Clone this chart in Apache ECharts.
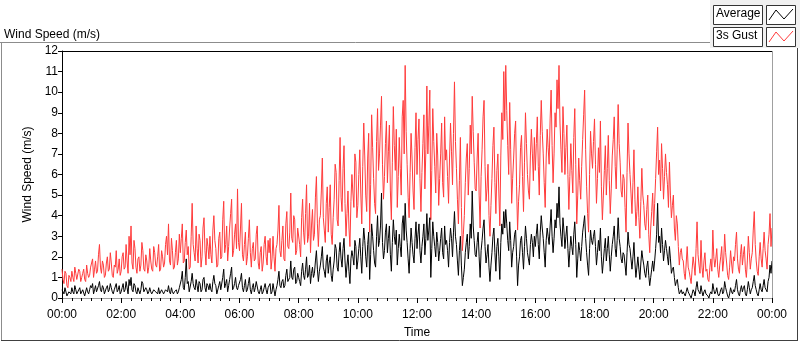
<!DOCTYPE html>
<html><head><meta charset="utf-8">
<script src="https://cdn.jsdelivr.net/npm/echarts@6/dist/echarts.min.js"></script>
<style>html,body{margin:0;padding:0;background:#fff;}#c{width:800px;height:342px;}</style>
</head><body><div id="c"></div>
<script>
// Sample interval in minutes (samples start at 00:00), 30 samples per hour
const STEP_MIN = 2;
// 3s Gust (m/s)
const gust = [
 1.4,0.9,0.7,1.3,1.2,0.6,0.5,1.1,1.0,0.8,1.3,1.0,0.8,1.5,1.2,0.9,0.9,1.4,1.3,0.8,1.0,1.2,1.4,0.9,0.8,1.6,1.2,1.0,1.1,1.5,
 1.5,1.9,1.0,1.4,1.8,1.2,1.3,2.1,2.6,1.5,1.2,1.8,1.6,1.0,1.1,1.7,2.0,1.3,1.4,2.2,1.7,1.1,1.0,1.6,1.5,2.3,1.2,1.4,1.9,1.1,
 1.3,2.0,2.2,1.4,1.5,2.6,1.8,1.2,3.0,2.1,3.5,1.7,1.4,2.8,2.4,1.5,1.2,1.9,2.0,1.3,1.6,2.7,2.3,1.4,1.3,2.1,1.8,1.2,1.5,2.4,
 1.8,1.4,1.3,2.5,2.2,1.6,1.5,2.0,2.6,1.3,1.4,2.3,2.0,1.5,1.7,2.6,3.0,2.1,3.6,1.8,1.6,2.9,2.3,1.4,1.5,2.2,2.8,1.6,1.9,3.1,
 2.2,2.9,3.6,1.7,1.8,2.7,3.3,2.1,2.5,1.4,1.5,3.0,4.6,2.6,2.2,1.8,3.5,2.4,1.7,3.1,2.8,1.5,2.0,3.4,3.9,2.3,1.6,2.9,2.5,1.9,
 3.0,2.1,1.7,3.3,4.0,2.8,2.4,1.5,1.6,2.9,3.2,1.9,2.0,3.8,4.7,2.2,2.6,3.5,1.8,2.5,3.4,4.1,4.8,2.0,2.3,3.1,3.6,2.4,5.3,2.7,
 2.3,3.4,4.6,2.1,1.8,2.6,3.2,1.6,2.0,2.9,3.8,2.2,1.5,2.4,2.7,1.8,1.9,3.1,3.5,1.7,1.4,2.2,2.5,1.3,1.7,2.6,3.0,2.0,1.6,2.8,
 2.2,2.9,1.4,1.9,3.0,2.0,1.3,2.4,2.6,3.3,4.5,2.3,2.0,2.8,3.5,1.9,1.8,3.6,4.2,2.5,2.4,3.2,5.1,2.9,2.7,4.0,3.8,2.1,2.3,3.4,
 3.4,2.6,2.0,3.9,4.8,3.2,2.6,4.1,5.5,2.7,3.0,4.6,2.2,3.5,4.3,2.8,3.1,4.9,5.9,3.6,2.5,3.8,4.0,5.2,6.8,3.9,3.3,2.7,4.6,5.4,
 3.2,4.4,5.5,3.1,2.6,3.9,4.8,6.5,6.1,3.8,3.5,5.7,7.8,4.9,4.2,6.3,7.4,4.6,3.0,4.1,5.2,3.4,2.5,4.7,6.0,5.1,4.4,7.0,6.6,3.9,
 4.5,6.0,7.2,5.1,3.6,6.4,8.5,6.9,5.0,4.2,6.8,8.0,3.2,5.5,8.9,7.3,5.8,4.6,4.1,7.6,9.2,6.2,7.0,8.4,9.8,6.5,4.8,5.9,7.5,8.6,
 5.6,7.1,8.4,5.2,3.8,6.6,9.3,7.4,6.2,8.2,4.4,5.9,7.8,6.3,5.0,8.8,9.6,7.0,11.3,8.1,6.5,4.9,3.9,6.1,8.0,6.8,5.2,4.3,7.3,9.0,
 6.0,7.7,8.7,5.8,4.2,6.1,7.5,8.9,5.3,7.2,10.3,7.0,8.4,10.1,3.8,6.2,9.2,7.6,6.4,5.1,8.0,6.9,4.5,5.8,7.0,8.5,5.6,4.9,8.8,6.7,
 7.2,5.9,4.6,6.8,8.5,7.1,5.5,8.0,10.5,7.6,6.3,4.8,3.6,5.7,7.8,4.4,2.3,3.1,4.0,5.6,6.8,7.5,5.0,6.3,8.4,7.0,9.8,8.1,6.6,5.3,
 5.2,6.8,8.0,5.0,3.4,5.9,7.2,8.8,9.6,6.4,4.7,5.3,6.5,4.0,3.0,4.5,5.8,7.4,8.3,5.6,4.1,6.2,7.0,5.1,3.5,6.9,9.0,7.7,11.0,8.6,
 11.3,9.1,7.4,6.0,9.5,7.2,4.6,5.8,6.8,8.0,8.6,5.4,3.3,4.7,5.5,7.3,7.9,5.9,4.2,6.6,9.0,7.5,6.0,5.2,4.8,6.9,8.2,7.0,5.7,7.8,
 6.2,7.5,8.8,6.4,5.0,7.9,9.6,8.1,7.0,5.6,4.4,6.8,8.2,7.3,6.5,8.7,10.1,7.4,5.6,7.0,9.0,8.3,10.6,9.2,11.3,8.5,7.2,6.1,9.3,8.0,
 6.0,7.3,8.4,6.0,4.3,5.9,7.5,6.2,5.1,7.8,9.2,6.5,3.6,5.0,6.8,5.7,4.8,6.4,7.7,8.9,10.1,7.2,5.4,4.1,3.2,6.0,8.1,7.0,6.3,7.6,
 8.7,6.5,4.6,5.8,7.3,6.1,8.6,5.4,3.8,5.0,6.2,7.4,5.0,6.3,7.9,5.7,4.1,5.3,6.9,7.7,8.8,6.4,5.3,7.2,9.4,7.5,6.6,5.2,4.9,6.0,
 5.8,4.4,3.2,6.1,8.5,7.0,6.0,5.1,4.1,5.6,7.2,4.8,3.5,4.2,5.4,3.9,2.9,4.7,6.3,5.0,4.5,3.6,3.3,4.3,5.0,3.1,2.2,3.4,4.2,5.1,
 3.5,4.6,5.8,7.1,8.3,6.0,6.7,5.2,7.5,6.3,4.8,5.9,7.0,6.1,5.5,4.4,6.6,5.0,3.9,4.5,5.0,3.4,2.8,4.0,3.6,2.5,1.6,2.2,2.4,1.9,
 1.8,1.2,0.9,1.7,2.5,1.5,1.3,1.0,0.7,1.4,2.0,1.6,1.1,2.4,3.7,2.1,1.6,1.2,2.8,1.5,1.0,1.8,2.2,1.3,1.4,0.9,0.8,1.5,1.9,1.3,
 3.3,2.0,1.5,1.9,2.4,1.4,1.0,1.6,2.0,2.5,1.3,1.8,3.1,2.2,1.7,1.1,0.9,1.5,2.3,1.7,1.2,2.0,1.8,2.6,3.2,1.9,1.4,1.2,2.1,2.6,
 1.6,2.1,2.5,1.4,1.0,1.8,3.0,2.2,1.4,1.9,2.2,3.3,4.2,2.6,1.8,1.3,1.1,2.0,2.7,1.9,1.5,2.4,3.2,2.3,1.9,1.4,2.6,3.1,4.1,2.5,
 3.4
];
// Average (m/s)
const average = [
 0.4,0.3,0.2,0.5,0.5,0.1,0.1,0.3,0.3,0.2,0.5,0.3,0.2,0.6,0.4,0.2,0.3,0.4,0.5,0.2,0.2,0.4,0.4,0.1,0.1,0.5,0.3,0.2,0.4,0.6,
 0.5,0.7,0.2,0.4,0.6,0.3,0.3,0.6,0.8,0.4,0.3,0.6,0.5,0.2,0.2,0.5,0.6,0.3,0.4,0.7,0.5,0.3,0.2,0.4,0.4,0.7,0.3,0.4,0.6,0.2,
 0.3,0.5,0.7,0.3,0.4,0.8,0.5,0.2,0.9,0.6,1.0,0.4,0.3,0.7,0.6,0.3,0.2,0.5,0.5,0.2,0.4,0.8,0.7,0.3,0.3,0.5,0.4,0.2,0.3,0.5,
 0.3,0.2,0.2,0.4,0.4,0.3,0.3,0.2,0.5,0.2,0.2,0.4,0.3,0.2,0.3,0.4,0.4,0.3,0.6,0.3,0.2,0.5,0.3,0.2,0.3,0.3,0.4,0.2,0.3,0.5,
 0.5,0.9,1.3,0.5,0.4,1.0,1.9,0.7,0.8,0.3,0.3,0.8,1.2,0.7,0.5,0.4,0.9,0.6,0.3,0.8,0.7,0.3,0.4,0.9,1.0,0.5,0.3,0.7,0.6,0.4,
 0.7,0.4,0.3,0.8,1.1,0.7,0.6,0.2,0.2,0.6,0.8,0.4,0.4,1.0,1.4,0.5,0.7,0.9,0.3,0.6,0.9,1.2,1.5,0.4,0.5,0.7,1.0,0.5,0.4,0.6,
 0.6,0.9,1.2,0.5,0.3,0.6,0.9,0.3,0.4,0.7,1.0,0.4,0.2,0.5,0.7,0.3,0.5,0.8,0.8,0.3,0.2,0.4,0.6,0.2,0.3,0.5,0.7,0.4,0.2,0.5,
 0.5,0.7,0.2,0.3,0.7,0.4,0.1,0.4,0.6,0.9,1.3,0.6,0.5,0.8,0.9,0.5,0.6,1.1,1.4,0.8,0.8,1.0,1.8,1.0,0.9,1.4,1.5,0.7,0.8,1.2,
 1.0,0.8,0.6,1.3,1.7,1.1,0.9,1.4,2.0,1.0,1.1,1.6,0.7,1.2,1.5,1.0,1.2,1.8,2.3,1.4,0.8,1.3,1.6,2.0,2.5,1.5,1.3,1.0,1.8,2.1,
 1.2,1.7,2.0,1.1,0.8,1.4,1.8,2.6,2.4,1.5,1.3,2.2,2.7,1.9,1.5,2.4,2.9,1.8,1.0,1.6,2.1,1.3,0.7,1.9,2.3,2.0,1.6,2.8,2.5,1.4,
 1.8,2.4,2.9,2.0,1.2,2.5,3.4,2.8,2.0,1.5,2.6,3.2,0.9,2.1,3.6,3.0,2.3,1.7,1.5,3.0,4.0,2.5,2.8,3.5,5.1,2.7,1.9,2.3,3.2,3.6,
 2.2,2.9,3.5,2.1,1.3,2.7,3.8,3.0,2.6,3.3,1.6,2.4,3.1,2.5,2.0,3.6,4.0,2.8,4.6,3.3,2.7,1.9,1.2,2.4,3.4,2.7,2.1,1.7,2.9,3.7,
 2.4,3.1,3.6,2.3,1.7,2.5,3.0,3.6,2.1,2.9,4.1,2.8,3.3,3.9,1.0,2.4,3.7,3.0,2.5,2.0,3.2,2.7,1.8,2.3,2.9,3.4,2.2,1.9,3.5,2.6,
 2.8,2.3,1.5,2.7,3.4,2.9,2.0,3.2,4.2,3.0,2.6,1.8,1.1,2.3,3.0,1.6,0.6,1.0,1.4,2.2,2.7,3.1,1.9,2.5,3.6,2.9,5.2,3.5,2.8,2.1,
 2.0,2.7,3.2,2.0,1.0,2.3,2.8,3.4,3.8,2.5,1.7,2.1,2.6,1.5,0.8,1.6,2.2,3.0,3.4,2.2,1.3,2.5,2.9,2.0,0.9,2.7,3.6,3.1,4.2,3.4,
 4.3,3.6,2.8,2.3,3.7,2.8,1.5,2.2,2.5,3.1,3.3,2.0,0.6,1.6,2.0,2.8,3.0,2.2,1.4,2.5,3.5,2.9,2.2,1.9,1.6,2.6,3.1,2.7,2.0,3.0,
 2.5,3.1,3.6,2.6,1.9,3.2,4.0,3.4,2.9,2.2,1.5,2.8,3.4,3.0,2.6,3.5,4.3,3.0,2.2,2.9,3.8,3.4,4.6,3.9,5.4,3.6,3.0,2.5,3.9,3.3,
 2.4,3.0,3.5,2.4,1.5,2.3,3.0,2.5,2.1,3.1,3.7,2.6,1.0,1.9,2.7,2.3,1.8,2.5,3.2,3.6,4.0,2.9,2.2,1.6,1.1,2.4,3.3,2.8,2.6,3.0,
 3.3,2.5,1.6,2.2,2.8,2.3,3.4,2.0,1.2,1.8,2.4,2.9,1.8,2.4,3.0,2.1,1.3,2.0,2.6,3.0,3.5,2.4,2.0,2.8,3.9,2.9,2.5,1.9,1.7,2.2,
 2.1,1.6,1.1,2.2,3.2,2.6,2.4,1.9,1.4,2.0,2.7,1.7,1.0,1.5,2.0,1.4,0.9,1.7,2.3,1.9,1.6,1.2,1.0,1.5,1.8,1.1,0.6,1.0,1.4,1.8,
 1.3,1.8,2.4,3.1,4.6,2.7,3.0,2.2,3.4,2.6,1.8,2.3,2.8,2.4,2.0,1.6,2.5,1.9,1.2,1.4,1.5,1.0,0.6,0.8,0.9,0.5,0.2,0.3,0.4,0.2,
 0.3,0.2,0.1,0.3,0.5,0.3,0.2,0.1,0.0,0.2,0.4,0.3,0.1,0.5,0.8,0.4,0.3,0.2,0.6,0.3,0.1,0.3,0.4,0.2,0.2,0.1,0.0,0.2,0.3,0.2,
 0.7,0.4,0.2,0.3,0.5,0.2,0.1,0.2,0.4,0.5,0.2,0.3,0.8,0.5,0.3,0.1,0.0,0.2,0.5,0.3,0.2,0.4,0.3,0.6,0.9,0.4,0.2,0.1,0.4,0.6,
 0.3,0.5,0.6,0.2,0.1,0.4,0.8,0.5,0.2,0.4,0.5,0.8,1.1,0.6,0.4,0.2,0.1,0.4,0.7,0.4,0.3,0.6,0.9,0.5,0.5,0.3,0.8,1.0,1.6,1.2,
 1.8
];
const seriesNames = ['Average', '3s Gust'];
const yTicks = [0,1,2,3,4,5,6,7,8,9,10,11,12];

function toPairs(arr){ return arr.map((v,i)=>[i*STEP_MIN, v]); }
function fmt(m){ const h = Math.floor(m/60)%24; const mm = m%60; return String(h).padStart(2,'0')+':'+String(mm).padStart(2,'0'); }

const FONT = 'Liberation Sans';
const chart = echarts.init(document.getElementById('c'), null, {renderer:'canvas'});
const GL = 62, GT = 51, GR = 772, GB = 298;
chart.setOption({
  animation: false,
  backgroundColor: '#ffffff',
  textStyle: {fontFamily: FONT},
  grid: {left: GL, top: GT, right: 800-GR, bottom: 342-GB, containLabel: false, outerBoundsMode: 'none'},
  xAxis: {
    type: 'value', min: 0, max: 1440, interval: 120,
    name: 'Time', nameLocation: 'middle', nameGap: 29,
    nameTextStyle: {color: '#000', fontSize: 12, fontFamily: FONT},
    axisLine: {show: true, onZero: false, lineStyle: {color: '#a0a0a0', width: 1}},
    axisTick: {show: true, length: 5, lineStyle: {color: '#000'}},
    minorTick: {show: true, splitNumber: 6, length: 3, lineStyle: {color: '#000'}},
    axisLabel: {color: '#000', fontSize: 12, margin: 11, formatter: v => fmt(v), fontFamily: FONT},
    splitLine: {show: false}
  },
  yAxis: {
    type: 'value', min: yTicks[0], max: yTicks[yTicks.length-1], interval: 1,
    name: 'Wind Speed (m/s)', nameLocation: 'middle', nameGap: 18, nameRotate: 90,
    nameTextStyle: {color: '#000', fontSize: 12, fontFamily: FONT},
    axisLine: {show: true, lineStyle: {color: '#000', width: 1}},
    axisTick: {show: true, length: 4, lineStyle: {color: '#000'}},
    axisLabel: {color: '#000', fontSize: 12, margin: 4, fontFamily: FONT},
    splitLine: {show: false}
  },
  series: [
    {name: seriesNames[1], type: 'line', data: toPairs(gust), showSymbol: false, symbol: 'none',
     lineStyle: {color: '#ff3b3b', width: 1}, itemStyle:{color:'#ff3b3b'}, z: 2},
    {name: seriesNames[0], type: 'line', data: toPairs(average), showSymbol: false, symbol: 'none',
     lineStyle: {color: '#000000', width: 1}, itemStyle:{color:'#000'}, z: 3}
  ],
  graphic: [
    {type:'line', shape:{x1:0, y1:42.5, x2:711, y2:42.5}, style:{stroke:'#8c8c8c', lineWidth:1}, silent:true},
    {type:'line', shape:{x1:1.5, y1:42, x2:1.5, y2:341}, style:{stroke:'#8c8c8c', lineWidth:1}, silent:true},
    {type:'line', shape:{x1:797.5, y1:48, x2:797.5, y2:341}, style:{stroke:'#404040', lineWidth:1}, silent:true},
    {type:'line', shape:{x1:1, y1:340.5, x2:798, y2:340.5}, style:{stroke:'#404040', lineWidth:1}, silent:true},
    {type:'line', shape:{x1:GL, y1:GT+0.5, x2:GR, y2:GT+0.5}, style:{stroke:'#000', lineWidth:1}, silent:true, z:10},
    {type:'line', shape:{x1:GR+0.5, y1:GT, x2:GR+0.5, y2:GB}, style:{stroke:'#a0a0a0', lineWidth:1}, silent:true, z:10},
    {type:'text', left:4, top:29, style:{text:'Wind Speed (m/s)', fill:'#000', font:'12px "Liberation Sans"'}},
    {type:'rect', shape:{x:710, y:0, width:90, height:48}, style:{fill:'#f0f0f0'}, silent:true},
    {type:'rect', shape:{x:713.5, y:5.5, width:49, height:19}, style:{fill:'#fff', stroke:'#333', lineWidth:1}},
    {type:'text', left:716, top:8, style:{text:seriesNames[0], fill:'#000', font:'12px "Liberation Sans"'}},
    {type:'rect', shape:{x:766.5, y:5.5, width:29, height:19}, style:{fill:'#fff', stroke:'#333', lineWidth:1}},
    {type:'polyline', shape:{points:[[769,20],[776,10],[784,19],[793,9]]}, style:{stroke:'#000', lineWidth:1, fill:null}},
    {type:'rect', shape:{x:713.5, y:27.5, width:49, height:19}, style:{fill:'#fff', stroke:'#333', lineWidth:1}},
    {type:'text', left:716, top:30, style:{text:seriesNames[1], fill:'#000', font:'12px "Liberation Sans"'}},
    {type:'rect', shape:{x:766.5, y:27.5, width:29, height:19}, style:{fill:'#fff', stroke:'#333', lineWidth:1}},
    {type:'polyline', shape:{points:[[769,42],[776,32],[784,41],[793,31]]}, style:{stroke:'#ff3b3b', lineWidth:1, fill:null}}
  ]
});
</script>
</body></html>
